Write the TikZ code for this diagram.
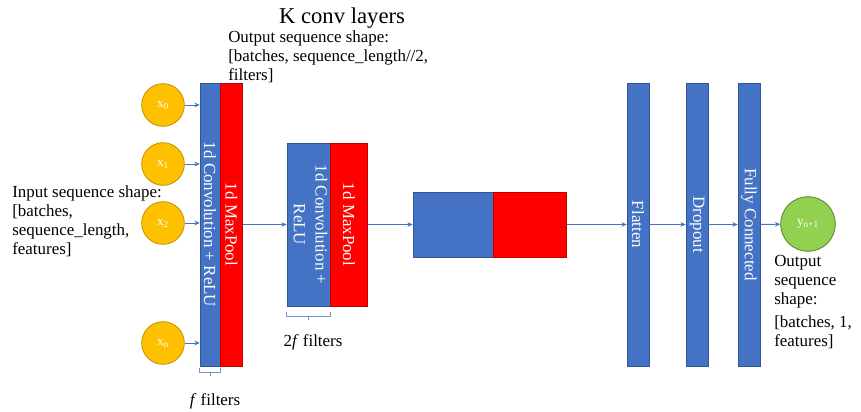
\documentclass[tikz,border=0pt]{standalone}
\usepackage{fontspec}
\setmainfont{Liberation Serif}
\usepackage{graphicx}
\usetikzlibrary{positioning,arrows.meta}
\definecolor{barblue}{HTML}{4472C4}
\definecolor{barred}{HTML}{FF0000}
\definecolor{gold}{HTML}{FFC000}
\definecolor{leaf}{HTML}{92D050}
\begin{document}
\begin{tikzpicture}[x=0.75pt,y=-0.75pt,font=\fontsize{12.7}{14.3}\selectfont,
    blk/.style={draw=barblue!75!black,line width=0.4pt,fill=barblue,inner sep=0pt,text=white},
    pool/.style={blk,fill=barred,draw=barred!75!black},
    inp/.style={circle,fill=gold,draw=gold!75!black,line width=0.6pt,minimum size=32pt,inner sep=0pt,text=white,font=\fontsize{10}{12}\selectfont},
    arr/.style={-{Stealth[length=4pt,width=3.5pt]},barblue,line width=0.7pt},
    brace/.style={barblue!75,line width=0.7pt}]
    \useasboundingbox (0,0) rectangle (861,411);
    \node[font=\fontsize{17}{20}\selectfont] (title) at (342,18) {K conv layers};
    \node[anchor=north west,inner sep=0pt,align=left] (outshape) at (228,30)
        {Output sequence shape:\\{}[batches, sequence\_length//2,\\filters]};
    \node[anchor=west,inner sep=0pt,align=left] (inshape) at (12,221)
        {Input sequence shape:\\{}[batches,\\sequence\_length,\\features]};
    % inputs
    \node[inp] (x0) at (163,105) {x\textsubscript{0}};
    \node[inp] (x1) at (163,164) {x\textsubscript{1}};
    \node[inp] (x2) at (163,223) {x\textsubscript{2}};
    \node[inp] (xn) at (163,343) {x\textsubscript{n}};
    % conv blocks
    \node[blk,minimum width=15pt,minimum height=212pt] (conv1) at (210,224.5)
        {\rotatebox{-90}{1d Convolution + ReLU}};
    \node[pool,minimum width=16.5pt,minimum height=212pt,right=0pt of conv1] (pool1)
        {\rotatebox{-90}{1d MaxPool}};
    \node[blk,minimum width=32.25pt,minimum height=122.25pt] (conv2) at (308.5,224.5)
        {\rotatebox{-90}{\begin{tabular}{@{}c@{}}1d Convolution +\\[2pt]ReLU\end{tabular}}};
    \node[pool,minimum width=27.75pt,minimum height=122.25pt,right=0pt of conv2] (pool2)
        {\rotatebox{-90}{1d MaxPool}};
    \node[blk,minimum width=60pt,minimum height=48.75pt] (conv3) at (453,224.5) {};
    \node[pool,minimum width=54.75pt,minimum height=48.75pt,right=0pt of conv3] (pool3) {};
    % dense part
    \node[blk,minimum width=16.5pt,minimum height=212pt] (flat) at (638,224.5) {\rotatebox{-90}{Flatten}};
    \node[blk,minimum width=16.5pt,minimum height=212pt] (drop) at (697,224.5) {\rotatebox{-90}{Dropout}};
    \node[blk,minimum width=16.5pt,minimum height=212pt] (fc) at (749,224.5) {\rotatebox{-90}{Fully Connected}};
    \node[inp,fill=leaf,draw=leaf!60!black,minimum size=41pt] (y) at (808,224) {y\textsubscript{n+1}};
    \node[anchor=north west,inner sep=0pt,align=left] (yshape) at (774,255)
        {Output\\sequence\\shape:\\[3pt]{}[batches, 1,\\features]};
    \foreach \i in {x0,x1,x2,xn}
        \draw[arr] (\i) -- (conv1.west |- \i);
    \draw[arr] (pool1) -- (conv2);
    \draw[arr] (pool2) -- (conv3);
    \draw[arr] (pool3) -- (flat);
    \draw[arr] (flat) -- (drop);
    \draw[arr] (drop) -- (fc);
    \draw[arr] (fc) -- (y);
    % filter braces
    \draw[brace] ([yshift=-1.5pt]conv1.south west) |- ([yshift=-4.5pt]conv1.south east) -- ++(0,3pt)
        ([yshift=-4.5pt]conv1.south) -- ++(0,-3pt);
    \draw[brace] ([yshift=-4.5pt]conv2.south west) |- ([yshift=-8pt]conv2.south east) -- ++(0,3.5pt)
        ([yshift=-8pt]conv2.south) -- ++(0,-2.5pt);
    \node (f1) at (215,401) {\textit{f} filters};
    \node (f2) at (313,342) {2\textit{f} filters};
\end{tikzpicture}
\end{document}
